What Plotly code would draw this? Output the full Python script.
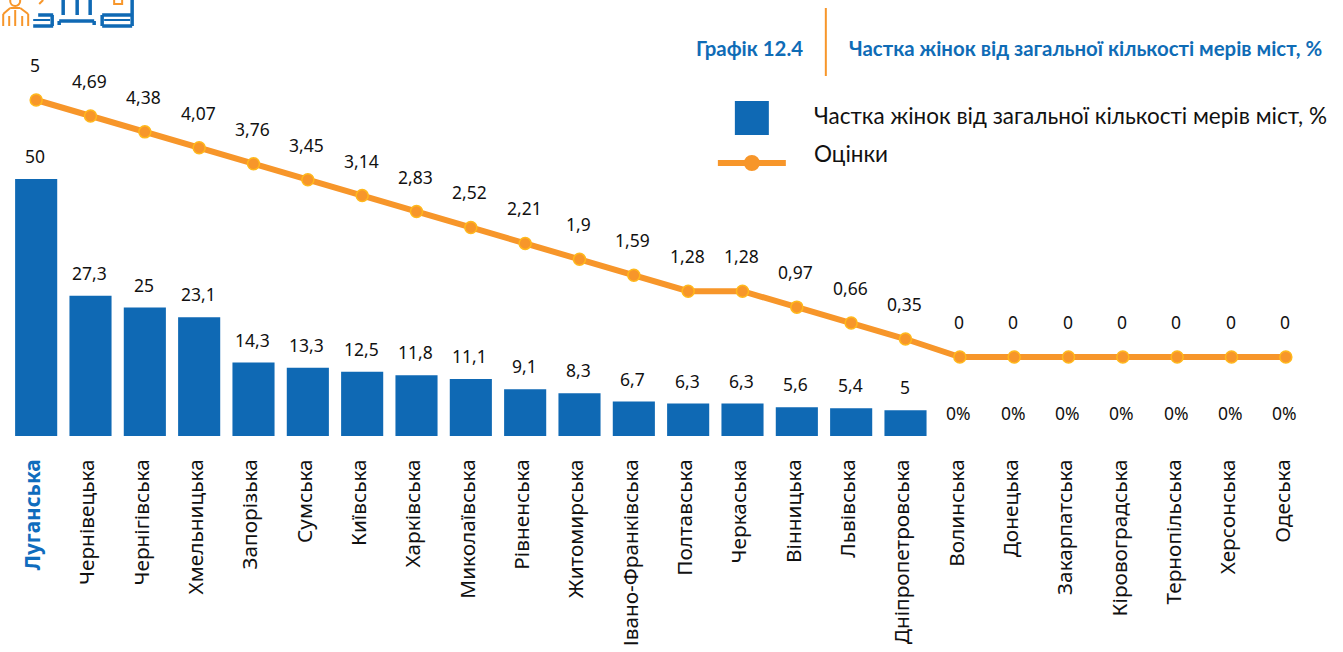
import plotly.graph_objects as go

regions = ["Луганська","Чернівецька","Чернігівська","Хмельницька","Запорізька","Сумська","Київська","Харківська","Миколаївська","Рівненська","Житомирська","Івано-Франківська","Полтавська","Черкаська","Вінницька","Львівська","Дніпропетровська","Волинська","Донецька","Закарпатська","Кіровоградська","Тернопільська","Херсонська","Одеська"]
shares = [50,27.3,25,23.1,14.3,13.3,12.5,11.8,11.1,9.1,8.3,6.7,6.3,6.3,5.6,5.4,5,0,0,0,0,0,0,0]
scores = [5,4.69,4.38,4.07,3.76,3.45,3.14,2.83,2.52,2.21,1.9,1.59,1.28,1.28,0.97,0.66,0.35,0,0,0,0,0,0,0]
share_labels = ["50","27,3","25","23,1","14,3","13,3","12,5","11,8","11,1","9,1","8,3","6,7","6,3","6,3","5,6","5,4","5","0%","0%","0%","0%","0%","0%","0%"]
score_labels = ["5","4,69","4,38","4,07","3,76","3,45","3,14","2,83","2,52","2,21","1,9","1,59","1,28","1,28","0,97","0,66","0,35","0","0","0","0","0","0","0"]
tick_labels = ['<b><span style="color:#0F6CBD">Луганська</span></b>'] + regions[1:]

BLUE = "#0F69B4"; ORANGE = "#F7962A"; TITLE = "#0F6CB6"
W, H = 1343, 652
L, R, T, B = 8.8, 1313.4, 60, 436
px = lambda x: (x - L) / (R - L)
py = lambda y: (B - y) / (B - T)
FONT = "Noto Sans"

fig = go.Figure()
fig.add_bar(x=regions, y=shares, marker=dict(color=BLUE, line=dict(width=0)), width=0.775, yaxis="y", name="Частка жінок від загальної кількості мерів міст, %", showlegend=False)
fig.add_scatter(x=regions, y=scores, yaxis="y2", mode="lines+markers", name="Оцінки", showlegend=False,
    line=dict(color=ORANGE, width=6), marker=dict(color=ORANGE, size=12, line=dict(color="#FFB81C", width=1.5)))

ann = []
for r, v, t in zip(regions, shares, share_labels):
    ann.append(dict(x=r, y=v, yref="y", text=t, showarrow=False, xshift=-1, yshift=23, font=dict(size=17.5, color="#111", family=FONT)))
for r, v, t in zip(regions, scores, score_labels):
    ann.append(dict(x=r, y=v, yref="y2", text=t, showarrow=False, xshift=-1, yshift=35, font=dict(size=17.5, color="#111", family=FONT)))

def text(x, y, s, size, color, family, anchor="left"):
    ann.append(dict(xref="paper", yref="paper", x=px(x), y=py(y), text=s, showarrow=False, xanchor=anchor, yanchor="middle",
                    xshift=-1, font=dict(size=size, color=color, family=family)))

text(695, 48, "<b>Графік 12.4</b>", 20.4, TITLE, "Lato")
text(848, 48, "<b>Частка жінок від загальної кількості мерів міст, %</b>", 20.4, TITLE, "Lato")
text(813, 115, "Частка жінок від загальної кількості мерів міст, %", 22.5, "#111", "Lato")
text(813, 153, "Оцінки", 22.5, "#111", "Lato")

def rect(x0, y0, x1, y1, fill=None, line=None, w=0):
    return dict(type="rect", xref="paper", yref="paper", x0=px(x0), x1=px(x1), y0=py(y0), y1=py(y1),
                fillcolor=fill or "rgba(0,0,0,0)", line=dict(color=line or "rgba(0,0,0,0)", width=w), layer="above")
def seg(x0, y0, x1, y1, color, w):
    return dict(type="line", xref="paper", yref="paper", x0=px(x0), x1=px(x1), y0=py(y0), y1=py(y1),
                line=dict(color=color, width=w), layer="above")
def circ(cx, cy, r, fill=None, line=None, w=0):
    return dict(type="circle", xref="paper", yref="paper", x0=px(cx-r), x1=px(cx+r), y0=py(cy-r), y1=py(cy+r),
                fillcolor=fill or "rgba(0,0,0,0)", line=dict(color=line or "rgba(0,0,0,0)", width=w), layer="above")

shapes = [
    seg(826, 8, 826, 76, ORANGE, 2),
    rect(735, 101, 769, 135, BLUE),
    seg(718, 163, 786, 163, ORANGE, 6),
    circ(752, 163, 8, ORANGE),
    # icon
    circ(15, 1, 5, None, ORANGE, 2),
    seg(3, 26, 3, 14, ORANGE, 2), seg(3, 14, 10, 8, ORANGE, 2), seg(10, 8, 20, 8, ORANGE, 2),
    seg(20, 8, 28, 14, ORANGE, 2), seg(28, 14, 28, 26, ORANGE, 2), seg(15, 10, 15, 26, ORANGE, 2),
    seg(9, 16, 9, 26, ORANGE, 2), seg(22, 16, 22, 26, ORANGE, 2),
    seg(38, 15, 53, 15, BLUE, 3.5), seg(52, 15, 52, 26, BLUE, 3.5), seg(33, 26, 53, 26, BLUE, 3.5), seg(33, 20, 50, 20, BLUE, 2),
    seg(59, 25, 59, 21, BLUE, 3.5), seg(59, 21, 94, 21, BLUE, 3.5), seg(94, 21, 94, 25, BLUE, 3.5),
    seg(63, 0, 63, 15, BLUE, 3.5), seg(77, 0, 77, 15, BLUE, 3.5), seg(90, 0, 90, 15, BLUE, 3.5),
    seg(102, 15, 132, 15, BLUE, 3.5), seg(102, 26, 132, 26, BLUE, 3.5), seg(102, 15, 102, 26, BLUE, 3.5),
    seg(132, 0, 132, 26, BLUE, 3.5), seg(104, 20, 130, 20, BLUE, 2),
    rect(114, -1, 122, 4, None, ORANGE, 2),
    seg(43, 0, 39, 4, ORANGE, 2),
]

fig.update_layout(
    width=W, height=H, autosize=False, paper_bgcolor="white", plot_bgcolor="white", showlegend=False,
    margin=dict(l=L, r=W-R, t=T, b=H-B, pad=0),
    font=dict(family=FONT, color="#111"),
    xaxis=dict(type="category", range=[-0.5, 23.5], categoryorder="array", categoryarray=regions, tickmode="array", tickvals=regions, ticktext=tick_labels,
               tickangle=-90, tickfont=dict(size=20.8, color="#111", family=FONT), ticks="outside", ticklen=14, tickcolor="rgba(0,0,0,0)",
               ticklabelshift=-3, showline=False, showgrid=False, zeroline=False, automargin=False),
    yaxis=dict(range=[0, 376/5.14], visible=False, showgrid=False, zeroline=False),
    yaxis2=dict(range=[-79/51.4, 297/51.4], overlaying="y", visible=False, showgrid=False, zeroline=False),
    annotations=ann, shapes=shapes,
)
fig.write_html("out.html", post_script="document.body.style.margin='0';", config=dict(displayModeBar=False))
